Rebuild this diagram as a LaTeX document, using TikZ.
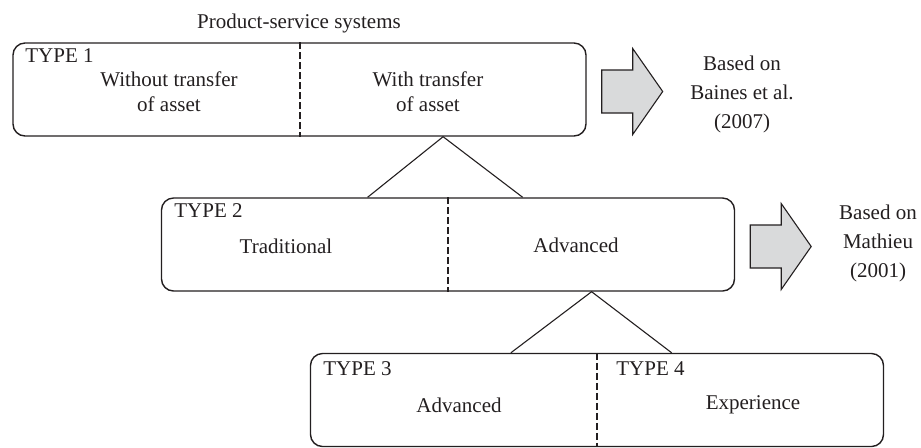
\documentclass[tikz,border=0pt]{standalone}
\usepackage{fontspec}
\setmainfont{Liberation Serif}
\usetikzlibrary{calc}
\definecolor{ink}{HTML}{231F20}
\definecolor{arrowgray}{HTML}{D9DADB}
\tikzset{
  typebox/.style={draw=ink, line width=0.7pt, rounded corners=6pt, minimum width=286.5pt, minimum height=46.5pt, inner sep=0pt},
  divider/.style={draw=ink, line width=1pt, dash pattern=on 3.5pt off 1.5pt},
  fork/.style={draw=ink, line width=0.55pt},
  blockarrow/.style={draw=ink, line width=0.55pt, fill=arrowgray, line join=miter},
  boxtext/.style={text=ink, inner sep=0pt, align=center, font=\fontsize{10.5pt}{12.5pt}\selectfont},
  basedon/.style={boxtext, font=\fontsize{10.5pt}{14.5pt}\selectfont},
}
\begin{document}
\begin{tikzpicture}[x=0.5pt, y=-0.5pt]
\useasboundingbox (0,0) rectangle (921,447);
\node (type1) [typebox] at (299.5,89.5) {};
\node (type2) [typebox] at (448,244.5) {};
\node (type3) [typebox] at (597,400) {};
\draw [divider] (type1.north) -- (type1.south);
\draw [divider] (type2.north) -- (type2.south);
\draw [divider] (type3.north) -- (type3.south);
\coordinate (fork1) at ($(type1.south)!.5!(type1.south east)$);
\coordinate (fork2) at ($(type2.south)!.5!(type2.south east)$);
\draw [fork] ($(type2.north west)!.36!(type2.north east)$) -- (fork1) -- ($(type2.north west)!.63!(type2.north east)$);
\draw [fork] ($(type3.north west)!.35!(type3.north east)$) -- (fork2) -- ($(type3.north west)!.63!(type3.north east)$);
\draw [blockarrow] ($(type1.east)+(15,-19.5)$) -- ++(31,0) -- ++(0,-21.5) -- ++(30,43) -- ++(-30,43) -- ++(0,-21.5) -- ++(-31,0) -- cycle;
\draw [blockarrow] ($(type2.east)+(15,-19.5)$) -- ++(31,0) -- ++(0,-21.5) -- ++(30,43) -- ++(-30,43) -- ++(0,-21.5) -- ++(-31,0) -- cycle;
\node (title) [boxtext] at (299,23.5) {Product-service systems};
\node (t1) [boxtext, anchor=west] at (25,56) {TYPE 1};
\node (without) [boxtext] at (169,92) {Without transfer\\of asset};
\node (with) [boxtext] at (428,92) {With transfer\\of asset};
\node (t2) [boxtext, anchor=west] at (174,211) {TYPE 2};
\node (traditional) [boxtext] at (286,246) {Traditional};
\node (advanced) [boxtext] at (576,245) {Advanced};
\node (t3) [boxtext, anchor=west] at (323,369) {TYPE 3};
\node (t4) [boxtext, anchor=west] at (616,369) {TYPE 4};
\node (advanced3) [boxtext] at (459,405) {Advanced};
\node (experience) [boxtext] at (753,405) {Experience};
\node (baines) [basedon] at (742,94) {Based on\\Baines et al.\\(2007)};
\node (mathieu) [basedon] at (878,243) {Based on\\Mathieu\\(2001)};
\end{tikzpicture}
\end{document}
